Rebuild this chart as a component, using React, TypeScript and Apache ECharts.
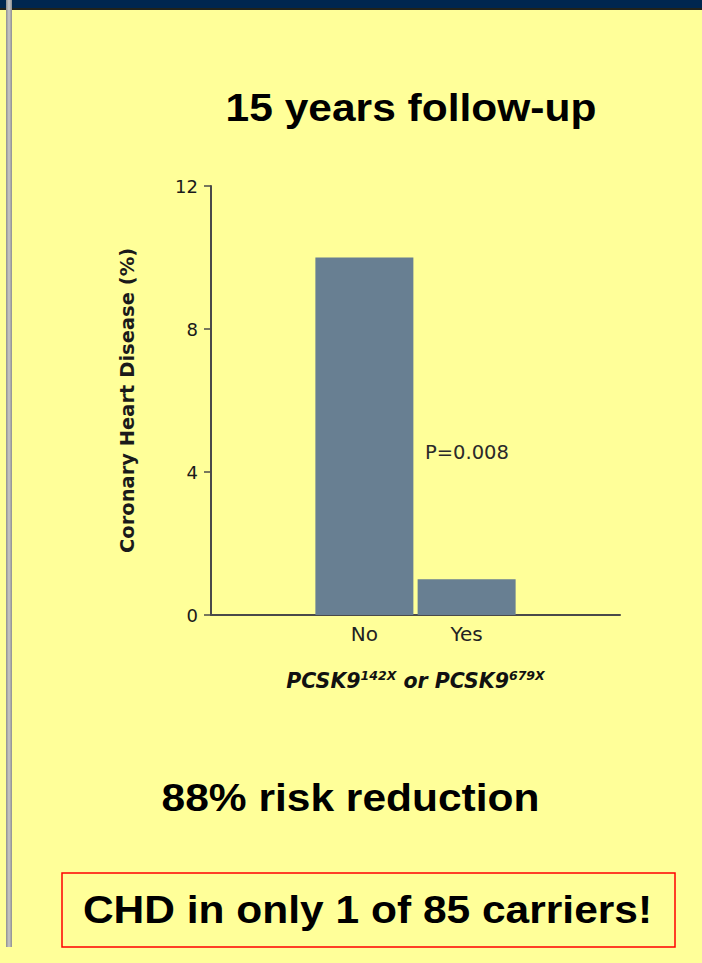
import React, { useEffect, useRef } from 'react';
import * as echarts from 'echarts';

// Study groups (padded with empty slots so the two bars sit mid-axis)
const categories = ['', 'No', 'Yes', ''];
// Coronary heart disease incidence, %
const chdPercent: (number | string)[] = ['-', 10, 1.0, '-'];
// Y axis range
const yMin = 0;
const yMax = 12;
const yStep = 4;

const titleText = '15 years follow-up';
const reductionText = '88% risk reduction';
const carriersText = 'CHD in only 1 of 85 carriers!';
const pValueText = 'P=0.008';
const yAxisTitle = 'Coronary Heart Disease (%)';

const BIG_FONT = '"Liberation Sans", Arial, sans-serif';
const CHART_FONT = '"DejaVu Sans", sans-serif';

export default function App() {
  const ref = useRef<HTMLDivElement>(null);

  useEffect(() => {
    document.body.style.margin = '0';
    const chart = echarts.init(ref.current!, null, { renderer: 'svg' });

    const bigText = (text: string, x: number, y: number) => ({
      type: 'text',
      x,
      y,
      scaleX: 1.09,
      z: 10,
      style: {
        text,
        textAlign: 'center',
        textVerticalAlign: 'middle',
        fontFamily: BIG_FONT,
        fontWeight: 'bold',
        fontSize: 39,
        fill: '#000',
      },
    });

    const nameStyle = (fontSize: number, extra: Record<string, unknown> = {}) => ({
      fontFamily: CHART_FONT,
      fontStyle: 'italic',
      fontWeight: 'bold',
      fontSize,
      color: '#111',
      lineHeight: 24,
      ...extra,
    });

    chart.setOption({
      animation: false,
      backgroundColor: '#FFFF99',
      grid: { left: 211, right: 82, top: 186, bottom: 348 },
      xAxis: {
        type: 'category',
        data: categories,
        axisLine: { lineStyle: { color: '#4a4a4a', width: 2 } },
        axisTick: { show: false },
        axisLabel: {
          margin: 9,
          fontFamily: CHART_FONT,
          fontSize: 20,
          color: '#222',
        },
        name: '{i|PCSK9}{s|142X}{i| or PCSK9}{s|679X}',
        nameLocation: 'middle',
        nameGap: 54,
        nameTextStyle: {
          rich: {
            i: nameStyle(20.5),
            s: nameStyle(12.5, { verticalAlign: 'top' }),
          },
        },
      },
      yAxis: {
        type: 'value',
        min: yMin,
        max: yMax,
        interval: yStep,
        splitLine: { show: false },
        axisLine: { show: true, lineStyle: { color: '#4a4a4a', width: 2 } },
        axisTick: { show: true, length: 7, lineStyle: { color: '#4a4a4a', width: 1.5 } },
        axisLabel: {
          margin: 13,
          fontFamily: CHART_FONT,
          fontSize: 18,
          color: '#1a1a1a',
        },
        name: yAxisTitle,
        nameLocation: 'middle',
        nameRotate: 90,
        nameGap: 74,
        nameTextStyle: {
          fontFamily: CHART_FONT,
          fontWeight: 'bold',
          fontSize: 19.5,
          color: '#1a1a1a',
        },
      },
      series: [
        {
          type: 'bar',
          data: chdPercent,
          barWidth: 98,
          itemStyle: { color: '#687f92' },
          silent: true,
        },
      ],
      graphic: [
        // header band
        { type: 'rect', shape: { x: 0, y: 0, width: 702, height: 8 }, style: { fill: '#00264f' } },
        { type: 'rect', shape: { x: 0, y: 8, width: 702, height: 2 }, style: { fill: '#22231a' } },
        // left rule
        {
          type: 'rect',
          shape: { x: 6, y: 0, width: 6, height: 947 },
          style: {
            fill: new echarts.graphic.LinearGradient(0, 0, 1, 0, [
              { offset: 0, color: '#8f8f8f' },
              { offset: 0.5, color: '#c9c9c9' },
              { offset: 1, color: '#8f8f8f' },
            ]),
          },
        },
        bigText(titleText, 411, 108),
        bigText(reductionText, 350.5, 797.5),
        {
          type: 'rect',
          shape: { x: 62, y: 873, width: 613, height: 74 },
          style: { fill: 'none', stroke: '#ff0000', lineWidth: 1.5 },
        },
        bigText(carriersText, 367.5, 910),
        {
          type: 'text',
          x: 425,
          y: 452,
          z: 10,
          style: {
            text: pValueText,
            textAlign: 'left',
            textVerticalAlign: 'middle',
            fontFamily: CHART_FONT,
            fontSize: 19.5,
            fill: '#2a2a2a',
          },
        },
      ],
    });

    return () => chart.dispose();
  }, []);

  return <div ref={ref} style={{ width: 702, height: 963 }} />;
}
